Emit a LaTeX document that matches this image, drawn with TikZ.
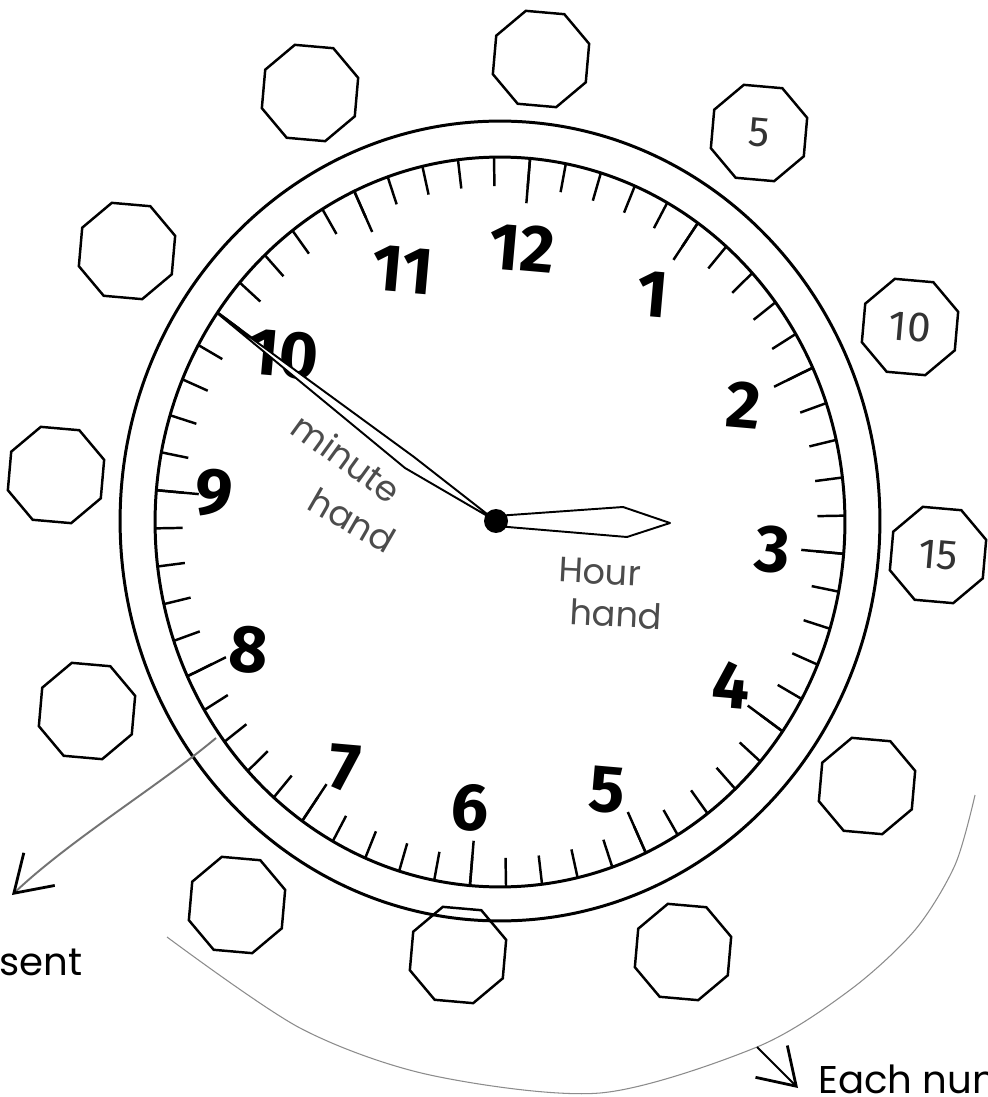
\documentclass[tikz,border=0pt]{standalone}
\usepackage{fontspec}
\setsansfont{Fira Sans}
\newfontfamily\handfont{Poppins}
\usetikzlibrary{arrows.meta, shapes.geometric, calc}

\begin{document}
\begin{tikzpicture}[
    x=0.02cm, y=-0.02cm,
    ring/.style={line width=1.7pt},
    tick/.style={line width=1.4pt},
    octagon/.style={regular polygon, regular polygon sides=8, draw, line width=1.4pt, minimum size=2.02cm, inner sep=0pt, rotate=-5, font=\sffamily\fontsize{24}{24}\selectfont, text=black!80},
    hournum/.style={font=\sffamily\bfseries\fontsize{38}{38}\selectfont, rotate=-5, inner sep=0pt},
    hand/.style={line width=1.1pt, fill=white, line join=round},
    note/.style={font=\handfont\fontsize{20}{20}\selectfont, text=black!70, inner sep=0pt},
    scrawl/.style={font=\handfont\fontsize{22}{22}\selectfont, inner sep=0pt},
    pointer/.style={-{Straight Barb[length=7mm, width=9mm, line width=1.6pt, color=black]}, line width=1.1pt},
]

\fill[white] (0,0) rectangle (987,1097);
\useasboundingbox (0,0) rectangle (987,1097);

\draw[black!45, line width=0.6pt] plot[smooth, tension=0.5] coordinates {(167,937) (300,1028) (430,1075) (600,1093) (757,1047) (850,990) (915,930) (955,865) (975,795)};

\draw[ring] (500,521) ellipse [x radius=7.6cm, y radius=8cm];
\draw[ring] (500,522) ellipse [x radius=6.9cm, y radius=7.3cm];

\begin{scope}[shift={(500,522)}, xscale=0.945]
  \foreach \i in {0,...,59}
    \draw[tick] (-85+6*\i:365) -- (-85+6*\i:336);
  \foreach \i in {0,...,11}
    \draw[tick] (-85+30*\i:365) -- (-85+30*\i:320);
\end{scope}

\node[hournum] (n12) at (522,248) {12};
\node[hournum] (n1)  at (653,294) {1};
\node[hournum] (n2)  at (744,405) {2};
\node[hournum] (n3)  at (773,550) {3};
\node[hournum] (n4)  at (731,685) {4};
\node[hournum] (n5)  at (607,790) {5};
\node[hournum] (n6)  at (470,808) {6};
\node[hournum] (n7)  at (345,768) {7};
\node[hournum] (n8)  at (249,650) {8};
\node[hournum] (n9)  at (214,493) {9};
\node[hournum] (n10) at (283,354) {10};
\node[hournum] (n11) at (403,270) {11};

\node[octagon] (m0)  at (541,59)  {};
\node[octagon] (m5)  at (759,133) {5};
\node[octagon] (m10) at (910,327) {10};
\node[octagon] (m15) at (938,555) {15};
\node[octagon] (m20) at (867,786) {};
\node[octagon] (m25) at (683,952) {};
\node[octagon] (m30) at (458,955) {};
\node[octagon] (m35) at (237,905) {};
\node[octagon] (m40) at (87,711)  {};
\node[octagon] (m45) at (56,475)  {};
\node[octagon] (m50) at (127,251) {};
\node[octagon] (m55) at (310,93)  {};

\coordinate (ctr)  at (496,521);
\coordinate (mtip) at (217,313);
\coordinate (htip) at (670,523);
\draw[hand] (ctr) -- (414,457) -- (mtip) -- (405,468) -- cycle;
\draw[hand] (496,516) -- (623,507) -- (htip) -- (627,537) -- (496,526) -- cycle;
\node[circle, fill, inner sep=0pt, minimum size=0.48cm] (hub) at (ctr) {};

\node[note, rotate=-36] (minute) at (347,458) {minute};
\node[note, rotate=-30] (mhand)  at (352,520) {hand};
\node[note, rotate=-3]  (hour)   at (600,572) {Hour};
\node[note, rotate=-3]  (hhand)  at (616,614) {hand};

\coordinate (dialpt)   at (216,738);
\coordinate (senttip)  at (12,895);
\coordinate (edgept)   at (757,1047);
\coordinate (eachtip)  at (798,1088);
\node[scrawl, anchor=base west] (sent) at (-1,975) {sent};
\node[scrawl, anchor=base west] (each) at (818,1093) {Each num};

\draw[pointer, black!55] (dialpt) .. controls (160,785) and (70,840) .. (senttip);
\draw[pointer] (edgept) -- (eachtip);

\end{tikzpicture}
\end{document}
